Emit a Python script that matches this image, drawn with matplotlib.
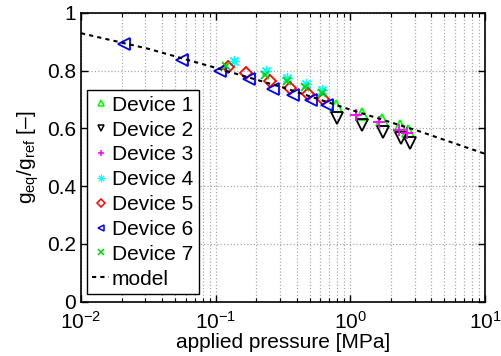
import numpy as np
import matplotlib
matplotlib.use("Agg")
import matplotlib.pyplot as plt
from matplotlib.ticker import LogLocator, NullFormatter

plt.rcParams['font.family'] = ['Liberation Sans', 'DejaVu Sans']
plt.rcParams['mathtext.fontset'] = 'custom'
plt.rcParams['mathtext.rm'] = 'Liberation Sans'
plt.rcParams['mathtext.it'] = 'Liberation Sans'

# ---- data ----
d1_p = [0.784, 1.216, 1.71, 2.34, 2.70]
d1_g = [0.676, 0.651, 0.628, 0.607, 0.591]
d2_p = [0.80, 1.216, 1.75, 2.38, 2.77]
d2_g = [0.637, 0.611, 0.588, 0.568, 0.549]
d3_p = [1.10, 1.62, 2.28, 2.62]
d3_g = [0.648, 0.622, 0.593, 0.584]
d4_p = [0.136, 0.237, 0.341, 0.467, 0.614]
d4_g = [0.832, 0.798, 0.776, 0.753, 0.732]
d5_p = [0.124, 0.167, 0.254, 0.357, 0.488, 0.631]
d5_g = [0.812, 0.793, 0.766, 0.741, 0.720, 0.703]
d6_p = [0.021, 0.0566, 0.108, 0.177, 0.268, 0.378, 0.508, 0.668]
d6_g = [0.892, 0.838, 0.799, 0.772, 0.738, 0.715, 0.697, 0.680]
d7_p = [0.119, 0.233, 0.337, 0.461, 0.614]
d7_g = [0.816, 0.784, 0.763, 0.743, 0.722]
model_p = [0.01, 0.0316, 0.1, 0.316, 1.0, 3.16, 10.0]
model_g = [0.930, 0.876, 0.810, 0.742, 0.665, 0.592, 0.512]

labels = ['Device 1', 'Device 2', 'Device 3', 'Device 4', 'Device 5',
          'Device 6', 'Device 7', 'model']

fig = plt.figure(figsize=(5.01, 3.56), dpi=100)
ax = fig.add_axes([81/501, 1 - 301.5/356, 404/501, 288.5/356])

ms = 8
ax.plot(d1_p, d1_g, ls='none', marker='^', mfc='none', mec=(0, 1, 0), mew=1.3, ms=ms, label=labels[0])
ax.plot(d2_p, d2_g, ls='none', marker='v', mfc='none', mec='k', mew=1.3, ms=ms, label=labels[1])
ax.plot(d3_p, d3_g, ls='none', marker='+', color=(1, 0, 1), mew=1.3, ms=ms + 1, label=labels[2])
ax.plot(d4_p, d4_g, ls='none', marker=(8, 2, 0), color=(0, 1, 1), mew=0.9, ms=ms, label=labels[3])
ax.plot(d5_p, d5_g, ls='none', marker='D', mfc='none', mec=(1, 0, 0), mew=1.3, ms=ms - 1.5, label=labels[4])
ax.plot(d6_p, d6_g, ls='none', marker='<', mfc='none', mec=(0, 0, 1), mew=1.3, ms=ms, label=labels[5])
ax.plot(d7_p, d7_g, ls='none', marker='x', color=(0, 0.85, 0), mew=1.3, ms=ms - 2, label=labels[6])
ax.plot(model_p, model_g, color='k', ls=(0, (2.0, 2.0)), lw=1.5, label=labels[7])

ax.set_xscale('log')
ax.set_xlim(1e-2, 1e1)
ax.set_ylim(0, 1)
ax.set_yticks([0, 0.2, 0.4, 0.6, 0.8, 1.0])
ax.set_yticklabels(['0', '0.2', '0.4', '0.6', '0.8', '1'])
ax.xaxis.set_minor_locator(LogLocator(base=10, subs=np.arange(2, 10)))
ax.xaxis.set_minor_formatter(NullFormatter())

ax.grid(True, which='major', ls=':', color='#aaaaaa', lw=0.9)
ax.grid(True, which='minor', axis='x', ls=':', color='#aaaaaa', lw=0.9)
ax.tick_params(which='both', direction='in', top=True, right=True, labelsize=15)
ax.tick_params(axis='x', which='major', pad=7)
ax.tick_params(which='major', length=5, width=1)
ax.tick_params(which='minor', length=3, width=0.8)
for s in ax.spines.values():
    s.set_linewidth(1.2)

ax.set_xlabel('applied pressure [MPa]', fontsize=15, labelpad=0)
ax.set_ylabel(r'g$_{\rm eq}$/g$_{\rm ref}$ [–]', fontsize=15, labelpad=4)

leg = ax.legend(loc='lower left', bbox_to_anchor=(0.015, 0.027), fontsize=15,
                frameon=True, fancybox=False, edgecolor='k', framealpha=1,
                handlelength=0.8, handletextpad=0.15, labelspacing=0.28,
                borderpad=0.25, borderaxespad=0)
leg.get_frame().set_linewidth(1.0)
leg_ms = [5, 5, 5, 5.5, 4, 5, 4]
for h, m in zip(leg.legend_handles[:7], leg_ms):
    h.set_markersize(m)
    h.set_markeredgewidth(1.1)
leg.legend_handles[3].set_markeredgewidth(0.7)

fig.savefig('out.png', dpi=100)
